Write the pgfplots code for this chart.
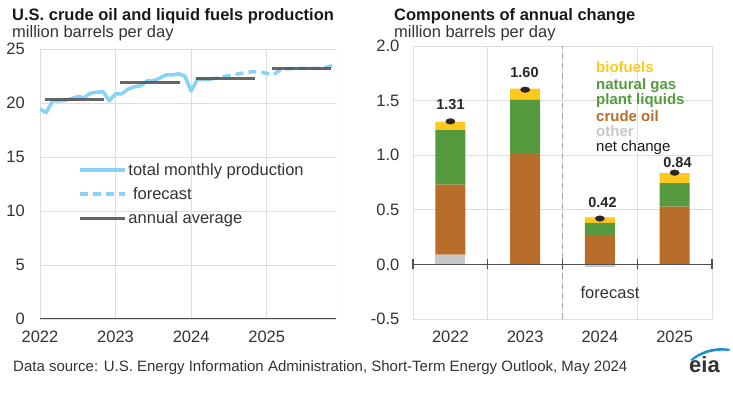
\documentclass[border=0pt]{standalone}
\usepackage{pgfplots}
\pgfplotsset{compat=1.18}
\usepackage{fontspec}
\setmainfont{Liberation Sans}
\definecolor{lblue}{HTML}{87D2F5}
\definecolor{avggrey}{HTML}{555555}
\definecolor{gridgrey}{HTML}{DDDDDD}
\definecolor{axgrey}{HTML}{505050}
\definecolor{txt}{HTML}{333333}
\definecolor{bio}{HTML}{FFC81E}
\definecolor{ngpl}{HTML}{559A3E}
\definecolor{crude}{HTML}{B86E2A}
\definecolor{othergrey}{HTML}{C8C8C8}
\definecolor{eiablue}{HTML}{1B8FD2}
\newcommand{\fs}[1]{\fontsize{#1}{#1}\selectfont}
\begin{document}
\begin{tikzpicture}
\path[use as bounding box] (0pt,0pt) rectangle (733pt,395pt);
% ---------------- left chart ----------------
\begin{axis}[
  at={(40pt,76pt)}, anchor=south west, scale only axis,
  width=296pt, height=270pt,
  xmin=2022, xmax=2025.917, ymin=0, ymax=25,
  xtick={2022,2023,2024,2025}, xticklabels={2022,2023,2024,2025},
  ytick={0,5,10,15,20,25},
  /pgf/number format/assume math mode=true,
  major tick length=0pt,
  axis line style={draw=none},
  grid=major, major grid style={draw=gridgrey, line width=0.9pt},
  xticklabel style={font=\fs{16.5}, text=txt, anchor=north, inner sep=0pt, yshift=-11.5pt},
  yticklabel style={font=\fs{16.5}, text=txt, anchor=east, inner sep=0pt, xshift=-15pt},
  legend style={at={(axis cs:2022.5,14.6)}, anchor=north west, draw=none, fill=none,
    font=\fs{16.5}, text=txt, row sep=6.5pt, inner sep=0pt, cells={anchor=west}},
  legend cell align=left,
  legend image code/.code={\draw[#1] (0pt,0pt) -- (45pt,0pt);},
]
\draw[gridgrey, line width=0.9pt] (rel axis cs:1,0) -- (rel axis cs:1,1);
\addplot[lblue, line width=3.5pt, line join=round] coordinates {
(2022.000,19.45) (2022.083,19.1) (2022.167,20.2) (2022.250,20.2) (2022.333,20.25)
(2022.417,20.4) (2022.500,20.6) (2022.583,20.5) (2022.667,20.9) (2022.750,21.0)
(2022.833,21.05) (2022.917,20.2) (2023.000,20.85) (2023.083,20.85) (2023.167,21.3)
(2023.250,21.5) (2023.333,21.6) (2023.417,22.05) (2023.500,22.05) (2023.583,22.3)
(2023.667,22.6) (2023.750,22.6) (2023.833,22.7) (2023.917,22.5) (2024.000,21.1)
(2024.083,22.2) (2024.167,22.15) (2024.250,22.2)};
\addlegendentry{total monthly production}
\addplot[lblue, line width=3.5pt, dash pattern=on 8pt off 5pt] coordinates {
(2024.250,22.2) (2024.333,22.3) (2024.417,22.4) (2024.500,22.55) (2024.583,22.65)
(2024.667,22.75) (2024.750,22.85) (2024.833,22.9) (2024.917,22.85) (2025.000,22.75)
(2025.083,22.6) (2025.167,23.0) (2025.250,23.15) (2025.333,23.2) (2025.417,23.2)
(2025.500,23.2) (2025.583,23.2) (2025.667,23.2) (2025.750,23.25) (2025.833,23.4)
(2025.917,23.5)};
\addlegendentry{\ forecast}
\addplot[avggrey, line width=3pt, opacity=0.9] coordinates {(2022.065,20.3) (2022.85,20.3)};
\addlegendentry{annual average}
\addplot[avggrey, line width=3pt, opacity=0.9, forget plot] coordinates {(2023.065,21.9) (2023.85,21.9)};
\addplot[avggrey, line width=3pt, opacity=0.9, forget plot] coordinates {(2024.065,22.3) (2024.85,22.3)};
\addplot[avggrey, line width=3pt, opacity=0.9, forget plot] coordinates {(2025.065,23.2) (2025.85,23.2)};
\draw[axgrey, line width=1.3pt] (axis cs:2022,0) -- (axis cs:2025.917,0);
\pgfplotsinvokeforeach{2022,2023,2024,2025}{
  \draw[axgrey, line width=1.1pt] (axis cs:#1,0) -- ([yshift=-5pt]axis cs:#1,0);
}
\end{axis}
% ---------------- right chart: stacked bars ----------------
\begin{axis}[
  at={(413pt,76pt)}, anchor=south west, scale only axis,
  width=299pt, height=273pt,
  xmin=-0.5, xmax=3.5, ymin=-0.5, ymax=2.0,
  ybar stacked, bar width=30pt,
  xtick={0,1,2,3}, xticklabels={2022,2023,2024,2025},
  minor xtick={-0.5,0.5,1.5,2.5,3.5},
  ytick={-0.5,0,0.5,1,1.5,2}, yticklabels={-0.5,0.0,0.5,1.0,1.5,2.0},
  major tick length=0pt, minor tick length=0pt,
  axis line style={draw=none},
  ymajorgrids, xminorgrids,
  major grid style={draw=gridgrey, line width=0.9pt},
  minor grid style={draw=gridgrey, line width=0.9pt},
  xticklabel style={font=\fs{16.5}, text=txt, anchor=north, inner sep=0pt, yshift=-11.5pt},
  yticklabel style={font=\fs{16.5}, text=txt, anchor=east, inner sep=0pt, xshift=-13.5pt},
]
\addplot[fill=othergrey, draw=none] coordinates {(0,0.09) (1,0) (2,0) (3,0)};
\addplot[fill=crude, draw=none] coordinates {(0,0.64) (1,1.02) (2,0.27) (3,0.53)};
\addplot[fill=ngpl, draw=none] coordinates {(0,0.50) (1,0.49) (2,0.11) (3,0.215)};
\addplot[fill=bio, draw=none] coordinates {(0,0.075) (1,0.10) (2,0.05) (3,0.09)};
\end{axis}
% ---------------- right chart: overlay ----------------
\begin{axis}[
  at={(413pt,76pt)}, anchor=south west, scale only axis,
  width=299pt, height=273pt,
  xmin=-0.5, xmax=3.5, ymin=-0.5, ymax=2.0,
  hide axis, clip=false,
]
\addplot[ybar, bar width=30pt, fill=othergrey, draw=none] coordinates {(2,-0.02)};
\draw[gray!70, line width=0.9pt, dash pattern=on 6pt off 4pt] (axis cs:1.5,-0.5) -- (axis cs:1.5,2.0);
\draw[axgrey, line width=1.3pt] (axis cs:-0.5,0) -- (axis cs:3.5,0);
\pgfplotsinvokeforeach{-0.5,0.5,1.5,2.5,3.5}{
  \draw[axgrey, line width=1.1pt] ([yshift=-5pt]axis cs:#1,0) -- ([yshift=5pt]axis cs:#1,0);
}
\addplot[only marks, mark=*, mark size=2.8pt, mark options={xscale=1.65, fill=black!85, draw=black!85}]
  coordinates {(0,1.31) (1,1.60) (2,0.42) (3,0.84)};
\end{axis}
% ---------------- texts ----------------
\begin{scope}[x=1pt,y=1pt]
\node[anchor=base west, inner sep=0pt, text=black!90] at (12,374.3) {\fs{16.5}\bfseries U.S. crude oil and liquid fuels production};
\node[anchor=base west, inner sep=0pt, text=txt] at (12,357.7) {\fs{16.5}million barrels per day};
\node[anchor=base west, inner sep=0pt, text=black!90] at (394,374.3) {\fs{16.5}\bfseries Components of annual change};
\node[anchor=base west, inner sep=0pt, text=txt] at (394,357.7) {\fs{16.5}million barrels per day};
% bar legend
\node[anchor=base west, inner sep=0pt, text=bio] at (596,322.3) {\fs{15}\bfseries biofuels};
\node[anchor=base west, inner sep=0pt, text=ngpl] at (596,305.8) {\fs{15}\bfseries natural gas};
\node[anchor=base west, inner sep=0pt, text=ngpl] at (596,290.0) {\fs{15}\bfseries plant liquids};
\node[anchor=base west, inner sep=0pt, text=crude] at (596,273.6) {\fs{15}\bfseries crude oil};
\node[anchor=base west, inner sep=0pt, text=othergrey] at (596,258.3) {\fs{15}\bfseries other};
\node[anchor=base west, inner sep=0pt, text=black!90] at (596,243.3) {\fs{15}net change};
% value labels
\node[anchor=base, inner sep=0pt, text=black!85] at (450.5,285.8) {\fs{14.5}\bfseries 1.31};
\node[anchor=base, inner sep=0pt, text=black!85] at (524.5,317.1) {\fs{14.5}\bfseries 1.60};
\node[anchor=base, inner sep=0pt, text=black!85] at (602.5,187.3) {\fs{14.5}\bfseries 0.42};
\node[anchor=base, inner sep=0pt, text=black!85] at (677.5,227.1) {\fs{14.5}\bfseries 0.84};
\node[anchor=base, inner sep=0pt, text=txt] at (610,96) {\fs{16.5}forecast};
% source
\node[anchor=base west, inner sep=0pt, text=txt] at (13,23) {\fs{15}Data source: U.S. Energy Information Administration, Short-Term Energy Outlook, May 2024};
% eia logo
\node[anchor=base west, inner sep=0pt, text=black!80] at (689,22) {\fs{22}\bfseries eia};
\fill[eiablue] (690,35) .. controls (700,44) and (714,49) .. (730,46) -- (729,44) .. controls (715,45.5) and (702,42) .. (692,34) -- cycle;
\end{scope}
\end{tikzpicture}
\end{document}
